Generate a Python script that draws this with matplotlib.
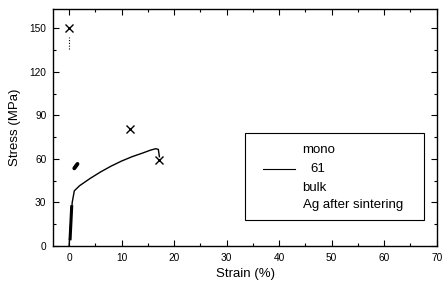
import matplotlib
matplotlib.use("Agg")
import matplotlib.pyplot as plt
from matplotlib.patches import Rectangle
from matplotlib.lines import Line2D

plt.rcParams['font.family'] = ['Liberation Sans', 'DejaVu Sans']

# Stress-strain curve (mono 61 bulk Ag after sintering)
strain = [0.0, 0.3, 0.6, 1.0, 2.0, 4.0, 6.0, 8.0, 10.0, 12.0, 14.0, 15.5, 16.5, 17.0, 17.2]
stress = [0.0, 15.0, 30.0, 38.0, 41.5, 46.5, 51.0, 55.0, 58.5, 61.5, 64.0, 66.0, 67.0, 66.5, 61.5]

# fracture markers
x_marks_strain = [0.0, 11.6, 17.2]
x_marks_stress = [150.0, 80.5, 59.5]

# short features
thick_strain = [0.2, 0.5]
thick_stress = [5.0, 27.0]
blob_strain = [1.0, 1.6]
blob_stress = [53.5, 56.5]
dot_strain = [0.0, 0.0]
dot_stress = [136.0, 144.0]

xticks = [0, 10, 20, 30, 40, 50, 60, 70]
xminor = [5, 15, 25, 35, 45, 55, 65]
yticks = [0, 30, 60, 90, 120, 150]
yminor = [15, 45, 75, 105, 135]
legend_lines = ["mono", "61", "bulk", "Ag after sintering"]

fig = plt.figure(figsize=(4.42, 2.90), dpi=100)
ax = fig.add_axes([53.3/442, 1-246/290, (436.7-53.3)/442, (246-9.3)/290])

ax.plot(strain, stress, color='black', lw=1.0)
ax.plot(thick_strain, thick_stress, color='black', lw=2.2)
ax.plot(blob_strain, blob_stress, color='black', lw=2.8, solid_capstyle='round')
ax.plot(dot_strain, dot_stress, color='black', lw=0.8, ls=(0, (1, 1.5)))
ax.plot(x_marks_strain, x_marks_stress, ls='none', marker='x', color='black',
        markersize=6, markeredgewidth=1.0)

ax.set_xlim(-3, 70)
ax.set_ylim(0, 163)
ax.set_xticks(xticks)
ax.set_yticks(yticks)
ax.set_xticks(xminor, minor=True)
ax.set_yticks(yminor, minor=True)
ax.tick_params(which='both', direction='in', top=True, right=True, labelsize=7.3, width=0.8)
ax.tick_params(which='major', length=4, pad=5)
ax.tick_params(which='minor', length=2)
for s in ax.spines.values():
    s.set_linewidth(1.0)

ax.set_xlabel("Strain (%)", fontsize=9.5, labelpad=4)
ax.set_ylabel("Stress (MPa)", fontsize=9.5, labelpad=6)

# legend box
ax.add_patch(Rectangle((0.500, 0.110), 0.468, 0.369, transform=ax.transAxes,
                       fill=False, edgecolor='black', lw=0.8))
ax.add_line(Line2D([0.547, 0.630], [0.324, 0.324], transform=ax.transAxes,
                   color='black', lw=0.8))
ys = [0.406, 0.324, 0.246, 0.173]
xs = [0.650, 0.670, 0.650, 0.650]
for t, xx, yy in zip(legend_lines, xs, ys):
    ax.text(xx, yy, t, transform=ax.transAxes, fontsize=9.5, va='center', ha='left')

fig.savefig("out.png", dpi=100)
